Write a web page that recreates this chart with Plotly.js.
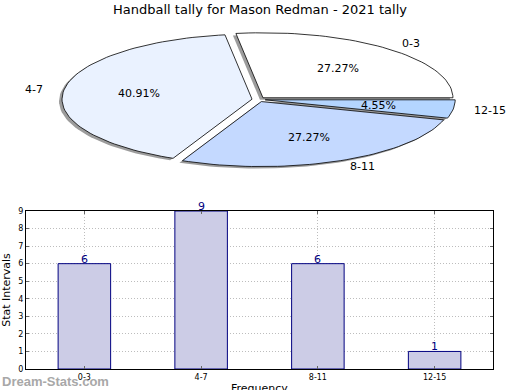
<!DOCTYPE html>
<html>
<head>
<meta charset="utf-8">
<script src="https://cdn.plot.ly/plotly-3.0.1.min.js"></script>
<style>html,body{margin:0;padding:0;background:#fff;}#chart{width:520px;height:390px;}</style>
</head>
<body>
<div id="chart"></div>
<script>
// ---- data ----
var categories = ['0-3', '4-7', '8-11', '12-15'];
var counts = [6, 9, 6, 1];
var sliceColors = ['#FFFFFF', '#EAF2FF', '#C4D9FF', '#B4D5FF'];
var chartTitle = 'Handball tally for Mason Redman - 2021 tally';
var xTitle = 'Frequency';
var yTitle = 'Stat Intervals';
var watermark = 'Dream-Stats.com';

// ---- pie geometry (layout constants, in pie-axis units = pixels) ----
var CX = 258.6, CY = 99.5, RX = 190, RY = 65, EXPLODE = 0.035;
var FONT = 'DejaVu Sans, Liberation Sans, sans-serif';

var total = counts.reduce(function(a, b){ return a + b; }, 0);
var traces = [];
var annotations = [];
var shadowTraces = [], sliceTraces = [];
var start = 0;
for (var i = 0; i < counts.length; i++) {
  var frac = counts[i] / total;
  var a0 = start, a1 = start + frac * 360;
  var mid = (a0 + a1) / 2 * Math.PI / 180;
  var ox = EXPLODE * RX * Math.cos(mid), oy = -EXPLODE * RY * Math.sin(mid);
  var xs = [CX + ox], ys = [CY + oy];
  var n = Math.max(4, Math.ceil((a1 - a0) / 2));
  for (var k = 0; k <= n; k++) {
    var t = (a0 + (a1 - a0) * k / n) * Math.PI / 180;
    xs.push(CX + ox + RX * Math.cos(t));
    ys.push(CY + oy - RY * Math.sin(t));
  }
  xs.push(CX + ox); ys.push(CY + oy);
  shadowTraces.push({
    type: 'scatter', mode: 'lines', xaxis: 'x2', yaxis: 'y2',
    x: xs.map(function(v){ return v - 3; }), y: ys.map(function(v){ return v + 2; }),
    fill: 'toself', fillcolor: 'rgba(90,90,90,0.6)', line: {width: 0}, hoverinfo: 'skip'
  });
  sliceTraces.push({
    type: 'scatter', mode: 'lines', xaxis: 'x2', yaxis: 'y2',
    x: xs, y: ys, fill: 'toself', fillcolor: sliceColors[i],
    line: {color: '#000000', width: 0.8}, hoverinfo: 'skip', name: categories[i]
  });
  var c = Math.cos(mid), s = Math.sin(mid);
  annotations.push({
    xref: 'x2', yref: 'y2', x: CX + ox + 1.1 * RX * c, y: CY + oy - 1.1 * RY * s,
    text: categories[i], showarrow: false, xanchor: c > 0 ? 'left' : 'right', yanchor: 'middle',
    font: {family: FONT, size: 11, color: '#000'}
  });
  annotations.push({
    xref: 'x2', yref: 'y2', x: CX + ox + 0.6 * RX * c, y: CY + oy - 0.6 * RY * s,
    text: (frac * 100).toFixed(2) + '%', showarrow: false, xanchor: 'center', yanchor: 'middle',
    font: {family: FONT, size: 11, color: '#000'}
  });
  start = a1;
}
traces = traces.concat(shadowTraces, sliceTraces);

// ---- bar chart ----
traces.push({
  type: 'bar', x: categories, y: counts, xaxis: 'x', yaxis: 'y',
  width: 0.45,
  marker: {color: '#CCCCE6', line: {color: '#000080', width: 1}},
  hoverinfo: 'skip'
});
for (var j = 0; j < categories.length; j++) {
  annotations.push({
    xref: 'x', yref: 'y', x: categories[j], y: counts[j], text: String(counts[j]),
    showarrow: false, xanchor: 'center', yanchor: 'bottom', yshift: -4,
    font: {family: FONT, size: 11, color: '#000080'}
  });
}

// x-axis title (sits partly below the page edge, as in the reference)
annotations.push({
  xref: 'x domain', yref: 'paper', x: 0.5, y: 1 - 380 / 390, xanchor: 'center', yanchor: 'top',
  text: xTitle, showarrow: false, font: {family: FONT, size: 11, color: '#000'}
});

annotations.push({
  xref: 'paper', yref: 'paper', x: 0, y: 0.0, xanchor: 'left', yanchor: 'bottom', yshift: -1,
  text: '<b>' + watermark + '</b>', showarrow: false,
  font: {family: 'Liberation Sans, Arial, sans-serif', size: 13, color: '#a8a8a8'}
});

var layout = {
  width: 520, height: 390,
  margin: {l: 0, r: 0, t: 0, b: 0},
  paper_bgcolor: '#ffffff', plot_bgcolor: 'rgba(0,0,0,0)',
  showlegend: false,
  bargap: 0,
  title: {text: chartTitle, x: 0.5, xanchor: 'center', y: 1, yref: 'paper', yanchor: 'top', pad: {t: 5},
          font: {family: FONT, size: 13, color: '#000'}},
  font: {family: FONT, color: '#000'},
  xaxis: {
    domain: [26 / 520, 493 / 520], anchor: 'y',
    type: 'category', range: [-0.5, 3.5],
    showline: true, linecolor: '#000', linewidth: 1, mirror: 'ticks',
    ticks: 'inside', ticklen: 3, tickcolor: '#666',
    showgrid: true, gridcolor: '#bdbdbd', griddash: '1px,2px', gridwidth: 1,
    tickfont: {family: FONT, size: 8, color: '#000'},
    zeroline: false, fixedrange: true
  },
  yaxis: {
    domain: [1 - 369 / 390, 1 - 211 / 390], anchor: 'x',
    range: [0, 9], dtick: 1,
    showline: true, linecolor: '#000', linewidth: 1, mirror: 'ticks',
    ticks: 'inside', ticklen: 3, tickcolor: '#666',
    showgrid: true, gridcolor: '#bdbdbd', griddash: '1px,2px', gridwidth: 1,
    tickfont: {family: FONT, size: 8, color: '#000'},
    title: {text: yTitle, standoff: 6, font: {family: FONT, size: 11, color: '#000'}},
    zeroline: false, fixedrange: true
  },
  xaxis2: {domain: [0, 1], anchor: 'y2', range: [0, 520], visible: false, fixedrange: true},
  yaxis2: {domain: [0.5, 1], anchor: 'x2', range: [195, 0], visible: false, fixedrange: true},
  annotations: annotations
};

Plotly.newPlot('chart', traces, layout, {displayModeBar: false, staticPlot: true});
</script>
</body>
</html>
